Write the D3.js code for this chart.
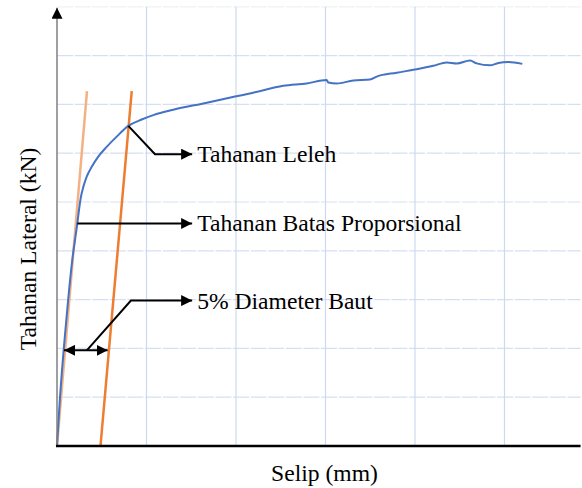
<!DOCTYPE html>
<html>
<head>
<meta charset="utf-8">
<script src="https://cdn.jsdelivr.net/npm/d3@7"></script>
<style>
    body { margin: 0; background: #fff; }
    svg { display: block; }
    text { font-family: "Liberation Serif", "Times New Roman", serif; fill: #000; }
</style>
</head>
<body>
<svg id="chart"></svg>
<script>
// load-slip curve (mm, kN)
const slip = [0, 0.03, 0.1, 0.17, 0.227, 0.246, 0.268, 0.294, 0.332, 0.388, 0.461, 0.555, 0.667, 0.797, 0.946, 1.076, 1.299, 1.635, 1.989, 2.193, 2.528, 2.79, 3.013, 3.031, 3.125, 3.311, 3.497, 3.572, 3.796, 4.019, 4.204, 4.354, 4.466, 4.615, 4.689, 4.838, 4.931, 5.042, 5.199];
const load = [0, 0.9, 2.5, 3.8, 4.56, 4.84, 5.11, 5.31, 5.52, 5.72, 5.93, 6.13, 6.34, 6.56, 6.69, 6.78, 6.89, 7.02, 7.16, 7.24, 7.38, 7.43, 7.5, 7.45, 7.43, 7.49, 7.51, 7.57, 7.65, 7.72, 7.79, 7.86, 7.84, 7.9, 7.84, 7.8, 7.85, 7.87, 7.83];

// initial stiffness line and the same line offset by 5% of bolt diameter
const elasticSlip = [0, 0.335];
const offsetSlip = [0.486, 0.835];
const tangentLoad = [0, 7.27];

// grid ticks
const xTicks = [0, 1, 2, 3, 4, 5];
const yTicks = [1, 2, 3, 4, 5, 6, 7, 8, 9];

// annotations: [start point, elbow point, arrow tip] in data units
const annotations = [
    { label: 'Tahanan Leleh', pts: [[0.797, 6.56], [1.095, 5.98], [1.51, 5.98]] },
    { label: 'Tahanan Batas Proporsional', pts: [[0.227, 4.56], [0.227, 4.56], [1.51, 4.56]] },
    { label: '5% Diameter Baut', pts: [[0.333, 1.96], [0.826, 2.98], [1.51, 2.98]] }
];
const span = { from: [0.078, 1.96], to: [0.566, 1.96] };

const width = 582;
const height = 488;
const left = 57;
const bottom = 446;

const xScale = d3.scaleLinear().domain([0, 5.85]).range([left, left + 89.5 * 5.85]);
const yScale = d3.scaleLinear().domain([0, 9]).range([bottom, bottom - 48.8 * 9]);

const svg = d3.select('#chart')
    .attr('width', width)
    .attr('height', height);

const defs = svg.append('defs');
defs.append('marker')
    .attr('id', 'head')
    .attr('viewBox', '0 0 10 10')
    .attr('refX', 10).attr('refY', 5)
    .attr('markerWidth', 5.5).attr('markerHeight', 5.5)
    .attr('orient', 'auto-start-reverse')
    .append('path')
    .attr('d', 'M0,0L10,5L0,10Z')
    .attr('fill', '#000');
defs.append('marker')
    .attr('id', 'axisHead')
    .attr('viewBox', '0 0 10 10')
    .attr('refX', 10).attr('refY', 5)
    .attr('markerWidth', 12).attr('markerHeight', 11)
    .attr('markerUnits', 'userSpaceOnUse')
    .attr('orient', 'auto')
    .append('path')
    .attr('d', 'M0,0L10,5L0,10Z')
    .attr('fill', '#000');

//horizontal grid lines
svg.append('g')
    .selectAll('line')
    .data(yTicks)
    .join('line')
    .attr('x1', xScale(0)).attr('x2', xScale(5.85))
    .attr('y1', d => yScale(d)).attr('y2', d => yScale(d))
    .attr('stroke', d => d === 9 ? '#eef1f8' : '#d5dff2')
    .attr('stroke-width', 1.2)
    .attr('stroke-dasharray', '16,1.6');

//vertical grid lines
svg.append('g')
    .selectAll('line')
    .data(xTicks.slice(1))
    .join('line')
    .attr('x1', d => xScale(d)).attr('x2', d => xScale(d))
    .attr('y1', yScale(0)).attr('y2', yScale(9))
    .attr('stroke', '#cdd9f0')
    .attr('stroke-width', 1.2);

//tangent lines
svg.append('line')
    .attr('x1', xScale(elasticSlip[0])).attr('y1', yScale(tangentLoad[0]))
    .attr('x2', xScale(elasticSlip[1])).attr('y2', yScale(tangentLoad[1]))
    .attr('stroke', '#f4b183')
    .attr('stroke-width', 2.5);

svg.append('line')
    .attr('x1', xScale(offsetSlip[0])).attr('y1', yScale(tangentLoad[0]))
    .attr('x2', xScale(offsetSlip[1])).attr('y2', yScale(tangentLoad[1]))
    .attr('stroke', '#ed7d31')
    .attr('stroke-width', 2.5);

//load-slip curve
const line = d3.line()
    .x((d, i) => xScale(slip[i]))
    .y(d => yScale(d))
    .curve(d3.curveMonotoneX);

svg.append('path')
    .datum(load)
    .attr('fill', 'none')
    .attr('stroke', '#4472c4')
    .attr('stroke-width', 2)
    .attr('stroke-linejoin', 'round')
    .attr('d', line);

//y-axis with arrow
svg.append('line')
    .attr('x1', xScale(0)).attr('y1', yScale(0))
    .attr('x2', xScale(0)).attr('y2', yScale(9) + 1)
    .attr('stroke', '#7f7f7f')
    .attr('stroke-width', 1.5)
    .attr('marker-end', 'url(#axisHead)');

//x-axis
svg.append('line')
    .attr('x1', xScale(0) - 1).attr('y1', yScale(0))
    .attr('x2', xScale(5.85)).attr('y2', yScale(0))
    .attr('stroke', '#000')
    .attr('stroke-width', 2.5);

//annotation leaders
const leader = d3.line()
    .x(d => xScale(d[0]))
    .y(d => yScale(d[1]));

annotations.forEach(a => {
    svg.append('path')
        .attr('d', leader(a.pts))
        .attr('fill', 'none')
        .attr('stroke', '#000')
        .attr('stroke-width', 2)
        .attr('marker-end', 'url(#head)');

    const tip = a.pts[a.pts.length - 1];
    svg.append('text')
        .attr('x', xScale(tip[0]) + 5)
        .attr('y', yScale(tip[1]) + 8)
        .attr('font-size', '23.6px')
        .text(a.label);
});

//5% diameter span
svg.append('line')
    .attr('x1', xScale(span.from[0])).attr('y1', yScale(span.from[1]))
    .attr('x2', xScale(span.to[0])).attr('y2', yScale(span.to[1]))
    .attr('stroke', '#000')
    .attr('stroke-width', 2)
    .attr('marker-start', 'url(#head)')
    .attr('marker-end', 'url(#head)');

//axis titles
svg.append('text')
    .attr('x', 324.5)
    .attr('y', 481)
    .attr('text-anchor', 'middle')
    .attr('font-size', '23.6px')
    .text('Selip (mm)');

svg.append('text')
    .attr('transform', 'translate(36,249) rotate(-90)')
    .attr('text-anchor', 'middle')
    .attr('font-size', '23.6px')
    .text('Tahanan Lateral (kN)');
</script>
</body>
</html>
